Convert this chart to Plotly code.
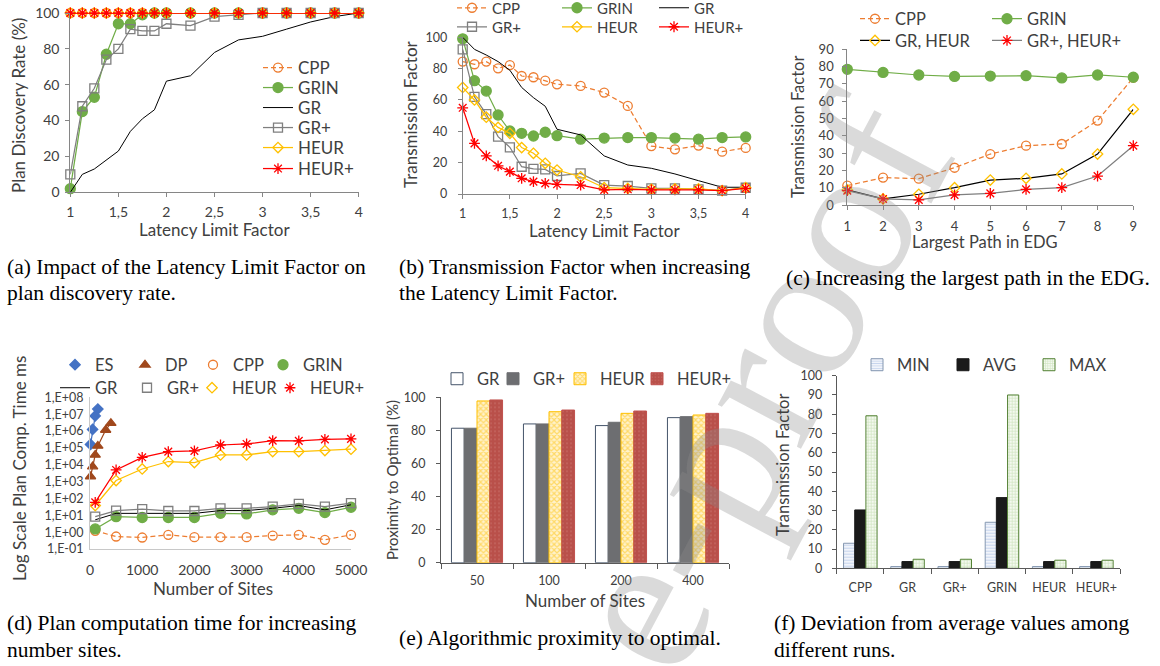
import plotly.graph_objects as go

W, H = 1160, 666
def fx(p): return p / W
def fy(p): return 1 - p / H

FONT = "Lato"
SERIF = "Liberation Serif"
TXT = "#404040"

# ---------------- data: (a) and (b) ----------------
llf = [1, 1.125, 1.25, 1.375, 1.5, 1.625, 1.75, 1.875, 2, 2.25, 2.5, 2.75, 3, 3.25, 3.5, 3.75, 4]
llf_tickvals = [1, 1.5, 2, 2.5, 3, 3.5, 4]
llf_ticktext = ["1", "1,5", "2", "2,5", "3", "3,5", "4"]

a_cpp = [100, 100, 100, 100, 100, 100, 100, 100, 100, 100, 100, 100, 100, 100, 100, 100, 100]
a_grin = [2, 45, 53, 77, 94, 94, 99, 100, 100, 100, 100, 100, 100, 100, 100, 100, 100]
a_gr = [0, 10, 13, 18, 23, 34, 41, 46, 62, 65, 78, 85, 87, 91, 95, 98, 100]
a_grp = [10, 48, 58, 74, 80, 91, 90, 90, 94, 93, 98, 99, 100, 100, 100, 100, 100]
a_heur = [100, 100, 100, 100, 100, 100, 100, 100, 100, 100, 100, 100, 100, 100, 100, 100, 100]
a_heurp = [100, 100, 100, 100, 100, 100, 100, 100, 100, 100, 100, 100, 100, 100, 100, 100, 100]

b_cpp = [84.5, 82.8, 84.5, 80.2, 82.3, 75.3, 74.5, 72.3, 70, 69, 64.7, 56.2, 30.6, 28.5, 30.9, 27, 29.4]
b_grin = [99, 72.3, 65.7, 50.4, 40.2, 38.7, 37, 39.4, 37.2, 35, 35.7, 36, 36, 35.7, 35, 36, 36.4]
b_gr = [100, 92.3, 88.7, 84.5, 79, 68, 61.5, 56, 41.3, 37.7, 24.3, 18.5, 16.4, 12.8, 8.5, 4.3, 4.3]
b_grp = [92.3, 62, 51, 36.6, 29.8, 17.4, 16, 15.7, 11.5, 13.2, 5.7, 5.1, 3.6, 3.6, 3, 2.1, 4]
b_heur = [68, 60, 49, 42.5, 38.7, 29.6, 26, 19.6, 15.3, 11, 4, 3.6, 3, 3.2, 3.2, 2.1, 4]
b_heurp = [55, 32.3, 24.3, 18, 14.3, 10, 7.9, 6.8, 6.2, 5.7, 2.6, 3, 2.6, 2.6, 2.6, 2.1, 3.6]

# ---------------- data: (c) ----------------
path_len = [1, 2, 3, 4, 5, 6, 7, 8, 9]
c_cpp = [11.2, 15.8, 15.2, 21.5, 29.4, 34.2, 35.2, 48.7, 73.5]
c_grin = [78.3, 76.5, 75, 74.2, 74.4, 74.6, 73.3, 75, 73.7]
c_gr_heur = [8.7, 3.5, 6.2, 10, 14.4, 15.4, 17.9, 29.4, 55.2]
c_grp_heurp = [8.3, 3.5, 2.9, 5.8, 6.7, 9, 10, 16.7, 34.2]

# ---------------- data: (d) ----------------
es_sites = [10, 50, 100, 150]
d_es = [1.6e5, 1.25e6, 7.9e6, 2.0e7]
dp_sites = [10, 50, 100, 150, 300, 400]
d_dp = [2.0e3, 7.8e3, 3.8e4, 1.3e5, 1.15e6, 2.9e6]
sites = [100, 500, 1000, 1500, 2000, 2500, 3000, 3500, 4000, 4500, 5000]
d_cpp = [1.2, 0.55, 0.48, 0.69, 0.50, 0.50, 0.50, 0.63, 0.69, 0.35, 0.69]
d_grin = [1.55, 8.3, 7.4, 7.4, 7.4, 13, 12, 21, 26, 14.5, 30]
d_gr = [5.4, 13, 13, 13, 13, 19, 19, 26, 38, 21, 42]
d_grp = [8.3, 19, 23, 18, 18, 26, 26, 33, 48, 33, 52]
d_heur = [38, 1150, 5600, 15500, 13500, 38000, 38000, 60000, 60000, 69000, 83000]
d_heurp = [59, 4900, 27500, 60000, 66000, 148000, 170000, 270000, 260000, 320000, 340000]
d_tickvals = [0.1, 1, 10, 100, 1e3, 1e4, 1e5, 1e6, 1e7, 1e8]
d_ticktext = ["1,E-01", "1,E+00", "1,E+01", "1,E+02", "1,E+03", "1,E+04", "1,E+05", "1,E+06", "1,E+07", "1,E+08"]

# ---------------- data: (e) ----------------
e_sites = ["50", "100", "200", "400"]
e_gr = [81.3, 83.9, 82.9, 87.7]
e_grp = [81.3, 83.9, 84.9, 88.3]
e_heur = [97.8, 91.3, 90.3, 89.3]
e_heurp = [98.4, 92.3, 91.7, 90.3]

# ---------------- data: (f) ----------------
f_algs = ["CPP", "GR", "GR+", "GRIN", "HEUR", "HEUR+"]
f_min = [13, 0.9, 0.9, 23.9, 0.9, 0.9]
f_avg = [30.3, 3.5, 3.5, 36.7, 3.5, 3.5]
f_max = [79.2, 4.7, 4.7, 90, 4.2, 4.2]

# ---------------- styles ----------------
COL = {"CPP": "#ED7D31", "GRIN": "#70AD47", "GR": "#000000", "GR+": "#7F7F7F",
       "HEUR": "#FFC000", "HEUR+": "#FF0000", "ES": "#4472C4", "DP": "#A0481C"}
SYM = {"CPP": "circle-open", "GRIN": "circle", "GR": None, "GR+": "square-open",
       "HEUR": "diamond-open", "HEUR+": "asterisk-open", "ES": "diamond", "DP": "triangle-up"}
SIZE = {"CPP": 9, "GRIN": 10, "GR+": 9, "HEUR": 8, "HEUR+": 9, "ES": 8, "DP": 9}
DASH = {"CPP": "5px,3px"}

traces = []
legends = {}

def new_legend(x, y, size):
    """One single-entry legend box; x = left of the entry, text starts at x + 40."""
    k = "legend" if not legends else f"legend{len(legends) + 1}"
    legends[k] = dict(x=fx(x), y=fy(y), xanchor="left", yanchor="middle", orientation="v",
                      bgcolor="rgba(0,0,0,0)", borderwidth=0, itemwidth=30, tracegroupgap=0,
                      font=dict(family=FONT, size=size, color=TXT),
                      itemclick=False, itemdoubleclick=False)
    return k

def axn(n):
    return ("x", "y") if n == 1 else (f"x{n}", f"y{n}")

def add_series(n, x, y, name, legend, mkey, line_color=None, mode=None, showlegend=True, width=1.25):
    xa, ya = axn(n)
    sym = SYM[mkey]
    color = COL[mkey]
    if mode is None:
        mode = "lines+markers" if sym else "lines"
    kw = dict(x=x, y=y, name=name, mode=mode, xaxis=xa, yaxis=ya, legend=legend,
              showlegend=showlegend, cliponaxis=False, hoverinfo="skip",
              line=dict(color=line_color or color, width=width if mkey != "GR" else 1,
                        dash=DASH.get(mkey, "solid")))
    if sym:
        kw["marker"] = dict(symbol=sym, size=SIZE[mkey], color=color,
                            line=dict(color=color, width=1.3))
    traces.append(go.Scatter(**kw))

# (a) legend entries stacked inside the plot
a_rows = [68, 88, 108, 128, 148, 169]
for (y, key), ry in zip([(a_cpp, "CPP"), (a_grin, "GRIN"), (a_gr, "GR"), (a_grp, "GR+"),
                         (a_heur, "HEUR"), (a_heurp, "HEUR+")], a_rows):
    add_series(1, llf, y, key, new_legend(258, ry, 17), key)

# (b) two legend rows above the plot
for y, key, lx, ly in [(b_cpp, "CPP", 452, 8), (b_grin, "GRIN", 557, 8), (b_gr, "GR", 654, 8),
                       (b_grp, "GR+", 452, 27), (b_heur, "HEUR", 557, 27), (b_heurp, "HEUR+", 654, 27)]:
    add_series(2, llf, y, key, new_legend(lx, ly, 15), key)

# (c)
add_series(3, path_len, c_cpp, "CPP", new_legend(855, 19, 16.5), "CPP")
add_series(3, path_len, c_grin, "GRIN", new_legend(987, 19, 16.5), "GRIN")
add_series(3, path_len, c_gr_heur, "GR, HEUR", new_legend(855, 40.7, 16.5), "HEUR", line_color="#000000")
add_series(3, path_len, c_grp_heurp, "GR+, HEUR+", new_legend(987, 40.7, 16.5), "HEUR+", line_color="#7F7F7F")

# (d): lines and markers split so the legend shows compact marker symbols
d_series = [(es_sites, d_es, "ES", 55, 365), (dp_sites, d_dp, "DP", 125, 365),
            (sites, d_cpp, "CPP", 193, 365), (sites, d_grin, "GRIN", 263, 365),
            (sites, d_gr, "GR", 55, 388), (sites, d_grp, "GR+", 127, 388),
            (sites, d_heur, "HEUR", 192, 388), (sites, d_heurp, "HEUR+", 270, 388)]
for x, y, key, lx, ly in d_series:
    lg = new_legend(lx, ly, 16.5)
    if SYM[key]:
        add_series(4, x, y, key, lg, key, mode="lines", showlegend=False)
        add_series(4, x, y, key, lg, key, mode="markers", showlegend=True)
    else:
        add_series(4, x, y, key, lg, key)

# (e)
def add_bar(n, x, y, name, legend, color, line_color, pattern=None, lw=1):
    xa, ya = axn(n)
    marker = dict(color=color, line=dict(color=line_color, width=lw))
    if pattern:
        marker["pattern"] = pattern
    traces.append(go.Bar(x=x, y=y, name=name, xaxis=xa, yaxis=ya, legend=legend,
                         marker=marker, hoverinfo="skip"))

add_bar(5, e_sites, e_gr, "GR", new_legend(437, 379, 16.5), "#FFFFFF", "#44546A")
add_bar(5, e_sites, e_grp, "GR+", new_legend(493, 379, 16.5), "#6D6E71", "#6D6E71")
add_bar(5, e_sites, e_heur, "HEUR", new_legend(560, 379, 16.5), "#FFFFFF", "#FFC000",
        dict(shape="x", fgcolor="#FFC000", bgcolor="#FFF2CC", size=4, solidity=0.5))
add_bar(5, e_sites, e_heurp, "HEUR+", new_legend(637, 379, 16.5), "#B9504A", "#C0504D",
        dict(shape=".", fgcolor="#D68C86", bgcolor="#B9504A", size=4, solidity=0.15))

# (f)
add_bar(6, f_algs, f_min, "MIN", new_legend(857, 365, 16.5), "#FFFFFF", "#8497B0",
        dict(shape="-", fgcolor="#8EA9DB", bgcolor="#FFFFFF", size=3, solidity=0.5))
add_bar(6, f_algs, f_avg, "AVG", new_legend(943, 365, 16.5), "#1A1A1A", "#1A1A1A")
add_bar(6, f_algs, f_max, "MAX", new_legend(1029, 365, 16.5), "#EEF5E8", "#548235",
        dict(shape="+", fgcolor="#A9D08E", bgcolor="#F4F9F0", size=3, solidity=0.4))

# ---------------- axes ----------------
def axis(domain, anchor, tsize=13, lc="#868686", **kw):
    d = dict(domain=domain, anchor=anchor, showgrid=False, zeroline=False, showline=True,
             linecolor=lc, linewidth=1, ticks="outside", ticklen=4, tickwidth=1, tickcolor=lc,
             tickfont=dict(family=FONT, size=tsize, color=TXT), fixedrange=True, tickangle=0,
             automargin=False)
    d.update(kw)
    return d

layout = dict(
    width=W, height=H, margin=dict(l=0, r=0, t=0, b=0, pad=0, autoexpand=False),
    paper_bgcolor="white", plot_bgcolor="rgba(0,0,0,0)",
    hovermode=False, barmode="group", bargap=0.29, bargroupgap=0,
    font=dict(family=FONT, color=TXT),
    # (a)
    xaxis=axis([fx(70.3), fx(358.7)], "y", 14, range=[1, 4], tickvals=llf_tickvals,
               ticktext=llf_ticktext, ticklabelstandoff=3),
    yaxis=axis([fy(192.3), fy(13)], "x", 14, range=[0, 100], tickvals=[0, 20, 40, 60, 80, 100],
               ticklabelstandoff=3),
    # (b)
    xaxis2=axis([fx(462.7), fx(745.7)], "y2", 12.5, range=[1, 4], tickvals=llf_tickvals,
                ticktext=llf_ticktext, ticklabelstandoff=4),
    yaxis2=axis([fy(194), fy(37.3)], "x2", 12.5, range=[0, 100], tickvals=[0, 20, 40, 60, 80, 100],
                ticklabelstandoff=8),
    # (c)
    xaxis3=axis([fx(847.3), fx(1133.3)], "y3", 13, range=[1, 9], dtick=1, ticklabelstandoff=5),
    yaxis3=axis([fy(205), fy(49)], "x3", 13, range=[0, 90], dtick=10, ticklabelstandoff=6),
    # (d)
    xaxis4=axis([fx(90), fx(351)], "y4", 14, lc="#C8C8C8", range=[0, 5000], dtick=1000,
                ticks="", ticklabelstandoff=8),
    yaxis4=axis([fy(549), fy(397.3)], "x4", 12.5, lc="#C8C8C8", type="log", range=[-1, 8],
                tickvals=d_tickvals, ticktext=d_ticktext, ticks="", ticklabelstandoff=3),
    # (e)
    xaxis5=axis([fx(441), fx(729)], "y5", 12.5, lc="#595959", type="category",
                tickson="boundaries", ticklen=5, ticklabelstandoff=6),
    yaxis5=axis([fy(562.7), fy(397.3)], "x5", 12.5, lc="#595959", range=[0, 100],
                tickvals=[0, 20, 40, 60, 80, 100], ticklabelstandoff=8),
    # (f)
    xaxis6=axis([fx(836.7), fx(1120)], "y6", 12.5, lc="#595959", type="category",
                tickson="boundaries", ticklen=5, ticklabelstandoff=8),
    yaxis6=axis([fy(568.3), fy(375.7)], "x6", 12.5, lc="#595959", range=[0, 100], dtick=10,
                ticklabelstandoff=7),
)
layout.update(legends)

# ---------------- annotations ----------------
ann = []
def text(x, y, s, size, family=FONT, color=TXT, angle=0, xanchor="center"):
    ann.append(dict(x=fx(x), y=fy(y), xref="paper", yref="paper", text=s, showarrow=False,
                    textangle=angle, xanchor=xanchor, yanchor="middle",
                    font=dict(family=family, size=size, color=color)))

# watermark
text(756, 384, "e-proof", 205, family=SERIF, color="rgba(140,140,140,0.32)", angle=-62)

# axis titles
text(214.5, 229.5, "Latency Limit Factor", 17)
text(19, 106, "Plan Discovery Rate (%)", 17, angle=-90)
text(604, 230, "Latency Limit Factor", 17)
text(410, 114, "Transmission Factor", 17, angle=-90)
text(985, 242, "Largest Path in EDG", 16.5)
text(798, 127, "Transmission Factor", 16.5, angle=-90)
text(213, 588, "Number of Sites", 17)
text(20, 469, "Log Scale Plan Comp. Time ms", 17, angle=-90)
text(585, 600, "Number of Sites", 17)
text(392, 480, "Proximity to Optimal (%)", 15, angle=-90)
text(783, 465, "Transmission Factor", 16.5, angle=-90)

# captions
CAP = 21.5
text(5, 267, "(a) Impact of the Latency Limit Factor on", CAP, SERIF, "black", xanchor="left")
text(5, 293, "plan discovery rate.", CAP, SERIF, "black", xanchor="left")
text(397, 267, "(b) Transmission Factor when increasing", CAP, SERIF, "black", xanchor="left")
text(397, 293, "the Latency Limit Factor.", CAP, SERIF, "black", xanchor="left")
text(784, 278, "(c) Increasing the largest path in the EDG.", CAP, SERIF, "black", xanchor="left")
text(5, 623, "(d) Plan computation time for increasing", CAP, SERIF, "black", xanchor="left")
text(5, 650, "number sites.", CAP, SERIF, "black", xanchor="left")
text(397, 638, "(e) Algorithmic proximity to optimal.", CAP, SERIF, "black", xanchor="left")
text(772, 623, "(f) Deviation from average values among", CAP, SERIF, "black", xanchor="left")
text(772, 650, "different runs.", CAP, SERIF, "black", xanchor="left")

layout["annotations"] = ann

fig = go.Figure(data=traces, layout=layout)
fig.write_html("out.html", config={"displayModeBar": False, "staticPlot": True},
               post_script="document.body.style.margin='0px';document.body.style.overflow='hidden';")
